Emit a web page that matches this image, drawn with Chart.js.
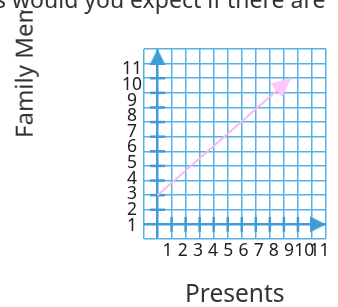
<!DOCTYPE html>
<html lang="en">
<head>
<meta charset="UTF-8" />
<title>Presents and Family Members</title>
<script src="https://cdn.jsdelivr.net/npm/chart.js"></script>
<style>
  body { margin: 0; background: #fff; }
  #wrap {
    position: relative;
    width: 338px;
    height: 307px;
    overflow: hidden;
    font-family: 'Noto Sans', sans-serif;
    color: #333;
  }
  #chart { position: absolute; left: 0; top: 0; }
  #ytitle {
    position: absolute;
    left: 0;
    top: 0;
    font-size: 24px;
    line-height: 24px;
    white-space: nowrap;
    transform-origin: 0 0;
    transform: translate(11.7px, 138px) rotate(-90deg);
  }
  #question {
    position: absolute;
    left: -5px;
    top: -12.5px;
    width: 360px;
    height: 22.5px;
    font-size: 23px;
    line-height: 22.5px;
    white-space: nowrap;
    background: #fff;
  }
</style>
</head>
<body>
<div id="wrap">
  <canvas id="chart" width="338" height="307"></canvas>
  <div id="ytitle">Family Members</div>
  <div id="question">s would you expect if there are</div>
</div>
<script>
  // tick labels
  const xTickLabels = [1, 2, 3, 4, 5, 6, 7, 8, 9, 10, 11];
  const yTickLabels = [1, 2, 3, 4, 5, 6, 7, 8, 9, 10, 11];

  // dashes drawn on the two axes
  const xAxisDashes = [1, 2, 3, 4, 5, 6, 7, 8, 9, 10];
  const yAxisDashes = [2, 3, 4, 5, 6, 7, 8, 9, 10, 11];

  // pink arrow: start and tip
  const arrowStart = { x: 0, y: 3 };
  const arrowEnd = { x: 9.5, y: 11 };

  // graph paper extent, axes cross at x=0, y=1
  const gridX = { min: -1, max: 12 };
  const gridY = { min: 0, max: 13 };
  const axisX = 0;
  const axisY = 1;

  const gridBlue = '#5aafe4';
  const axisBlue = '#3e9dd9';
  const pink = '#f6b9f3';

  const arrowHead = (len, width, color) => {
    const c = document.createElement('canvas');
    const size = Math.ceil(len * 2 + 2);
    c.width = size;
    c.height = size;
    const g = c.getContext('2d');
    const m = size / 2;
    g.fillStyle = color;
    g.beginPath();
    g.moveTo(m, m);
    g.lineTo(m - width / 2, m + len);
    g.lineTo(m + width / 2, m + len);
    g.closePath();
    g.fill();
    return c;
  };

  const blueHead = arrowHead(16, 16, axisBlue);
  const pinkHead = arrowHead(19, 18, '#ffc4fb');

  const tickFont = { family: 'Noto Sans', size: 17.5 };

  new Chart(document.getElementById('chart'), {
    type: 'scatter',
    data: {
      datasets: [
        {
          data: [arrowStart, arrowEnd],
          showLine: true,
          borderColor: pink,
          borderWidth: 2,
          pointRadius: [0, 10],
          pointStyle: [false, pinkHead],
          pointRotation: [0, 50],
          clip: false,
        },
        {
          data: [{ x: axisX, y: gridY.max }, { x: gridX.max, y: axisY }],
          pointRadius: 10,
          pointStyle: blueHead,
          pointRotation: [0, 90],
          clip: false,
        },
        {
          data: yAxisDashes.map((v) => ({ x: axisX, y: v })),
          pointStyle: 'line',
          pointRadius: 7.5,
          borderColor: axisBlue,
          borderWidth: 2.5,
          pointRotation: 0,
          clip: false,
        },
        {
          data: xAxisDashes.map((v) => ({ x: v, y: axisY })),
          pointStyle: 'line',
          pointRadius: 7.5,
          borderColor: axisBlue,
          borderWidth: 2.5,
          pointRotation: 90,
          clip: false,
        },
      ],
    },
    options: {
      responsive: false,
      animation: false,
      events: [],
      layout: { padding: { top: 49, right: 6, left: 0, bottom: 0 } },
      plugins: { legend: { display: false }, tooltip: { enabled: false } },
      scales: {
        x: {
          type: 'linear',
          position: 'bottom',
          min: gridX.min,
          max: gridX.max,
          border: { display: false },
          ticks: { display: false, stepSize: 1 },
          grid: {
            drawTicks: false,
            color: (ctx) => (ctx.tick && ctx.tick.value === axisX ? axisBlue : gridBlue),
            lineWidth: (ctx) => (ctx.tick && ctx.tick.value === axisX ? 2.5 : 1.5),
          },
        },
        y: {
          type: 'linear',
          position: 'left',
          min: gridY.min,
          max: gridY.max,
          border: { display: false },
          ticks: { display: false, stepSize: 1 },
          grid: {
            drawTicks: false,
            color: (ctx) => (ctx.tick && ctx.tick.value === axisY ? axisBlue : gridBlue),
            lineWidth: (ctx) => (ctx.tick && ctx.tick.value === axisY ? 2.5 : 1.5),
          },
        },
        xLabels: {
          type: 'linear',
          position: 'bottom',
          min: -0.58,
          max: 11.43,
          border: { display: false },
          grid: { display: false, drawTicks: false },
          ticks: { font: tickFont, color: '#222', padding: 2, maxRotation: 0, autoSkip: false },
          title: {
            display: true,
            text: 'Presents',
            color: '#333',
            font: { family: 'Noto Sans', size: 24.5, lineHeight: 1 },
            padding: 0,
          },
          afterBuildTicks: (s) => {
            s.ticks = xTickLabels.map((v) => ({ value: v }));
          },
          afterFit: (s) => {
            s.height = 68;
            s.paddingLeft = 0;
            s.paddingRight = 0;
          },
        },
        yLabels: {
          type: 'linear',
          position: 'left',
          min: 0.157,
          max: 12.29,
          border: { display: false },
          grid: { display: false, drawTicks: false },
          ticks: { font: tickFont, color: '#222', padding: 1.5, crossAlign: 'center', autoSkip: false },
          afterBuildTicks: (s) => {
            s.ticks = yTickLabels.map((v) => ({ value: v }));
          },
          afterFit: (s) => {
            s.width = 143.5;
            s.paddingTop = 0;
            s.paddingBottom = 0;
          },
        },
      },
    },
  });
</script>
</body>
</html>
